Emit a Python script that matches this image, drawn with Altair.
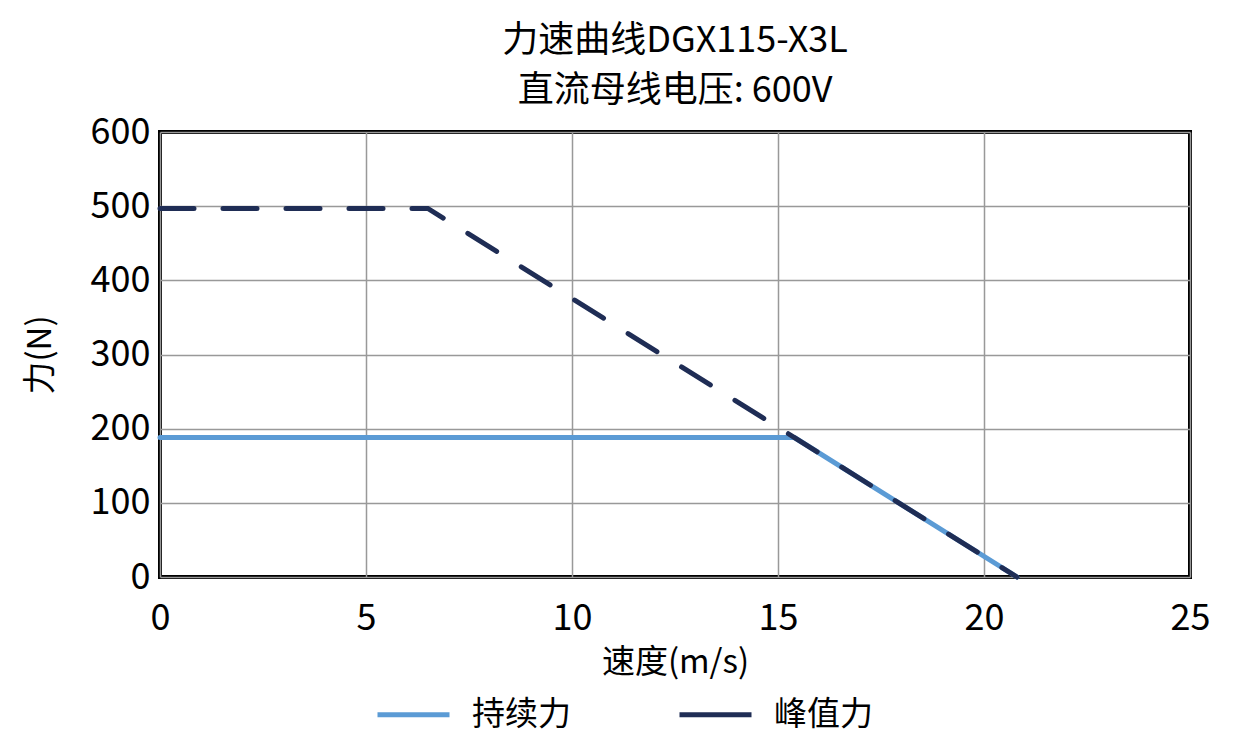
import pandas as pd
import altair as alt

# 持续力 (continuous force)
cont_speed = [0, 15.4, 20.8]
cont_force = [188, 188, 0]

# 峰值力 (peak force)
peak_speed = [0, 6.5, 15.4, 20.8]
peak_force = [497, 497, 188, 0]

series = ["持续力", "峰值力"]
colors = ["#5B9BD5", "#1F2D55"]

FONT = "Noto Sans CJK SC"

cont = pd.DataFrame({"speed": cont_speed, "force": cont_force, "series": series[0]})
peak = pd.DataFrame({"speed": peak_speed, "force": peak_force, "series": series[1]})

x = alt.X(
    "speed:Q",
    title="速度(m/s)",
    scale=alt.Scale(domain=[0, 25], nice=False),
    axis=alt.Axis(values=[0, 5, 10, 15, 20, 25]),
)
y = alt.Y(
    "force:Q",
    title="力(N)",
    scale=alt.Scale(domain=[0, 600], nice=False),
    axis=alt.Axis(values=[0, 100, 200, 300, 400, 500, 600]),
)
color = alt.Color(
    "series:N",
    scale=alt.Scale(domain=series, range=colors),
    legend=alt.Legend(
        title=None,
        orient="none",
        legendX=215,
        legendY=544,
        direction="horizontal",
        columns=2,
        columnPadding=98,
        symbolType="stroke",
        symbolSize=5184,
        symbolStrokeWidth=5,
        labelFontSize=33,
        labelFont=FONT,
        labelColor="black",
        labelOffset=20,
    ),
)

cont_line = (
    alt.Chart(cont)
    .mark_line(strokeWidth=5, strokeCap="round")
    .encode(x=x, y=y, color=color)
)

peak_line = (
    alt.Chart(peak)
    .mark_line(strokeWidth=5, strokeDash=[34, 29], strokeCap="round")
    .encode(x=x, y=y, color=color)
)

chart = (
    (cont_line + peak_line)
    .properties(
        width=1030,
        height=445,
        autosize=alt.AutoSizeParams(type="none"),
        padding={"left": 152, "top": 124, "right": 49, "bottom": 170},
        title=alt.Title(
            ["力速曲线DGX115-X3L", "直流母线电压: 600V"],
            fontSize=36,
            font=FONT,
            fontWeight="normal",
            color="black",
            lineHeight=50,
            offset=4,
            anchor="middle",
        ),
    )
    .configure_view(stroke="black", strokeWidth=4)
    .configure_axis(
        grid=True,
        gridColor="#999999",
        gridWidth=1.5,
        gridOpacity=1,
        domain=False,
        ticks=False,
        labelFont=FONT,
        labelFontSize=36,
        labelColor="black",
        titleFont=FONT,
        titleFontSize=33,
        titleFontWeight="normal",
        titleColor="black",
    )
    .configure_axisX(labelPadding=24, labelFlush=False, titlePadding=10)
    .configure_axisY(labelPadding=10, titlePadding=33)
)

chart.save("out.html", embed_options={"renderer": "svg", "actions": False})
